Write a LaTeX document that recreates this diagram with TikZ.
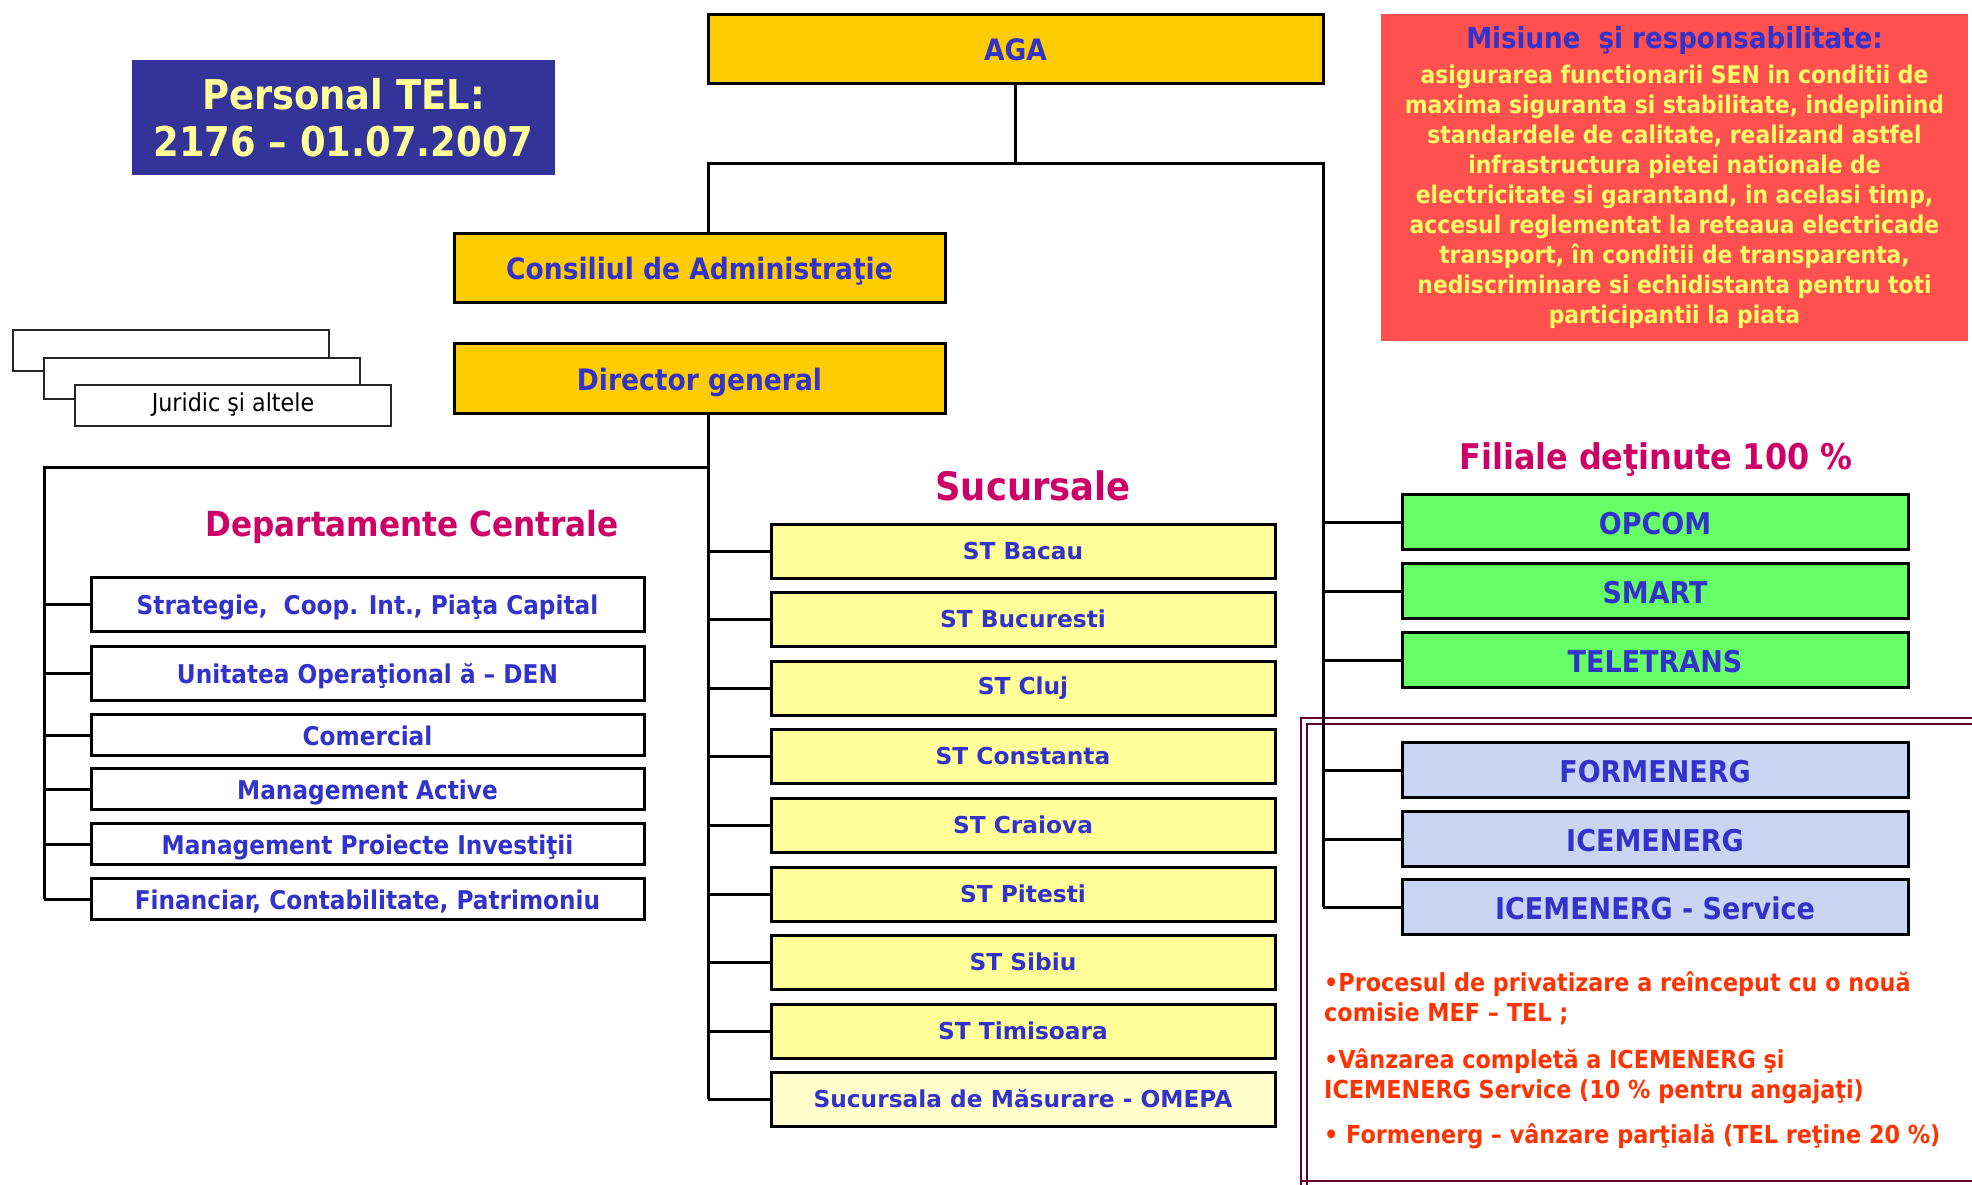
\documentclass[tikz,border=0pt]{standalone}
\usepackage{fontspec}
\setmainfont{DejaVu Sans}
\newfontfamily\narrowfont{DejaVu Sans Condensed}
\usepackage{tikz}
\usetikzlibrary{positioning}
\definecolor{orgblue}{HTML}{3333CC}
\definecolor{orgnavy}{HTML}{333399}
\definecolor{orggold}{HTML}{FFCC00}
\definecolor{orgcream}{HTML}{FFFF99}
\definecolor{orgpale}{HTML}{FFFFCC}
\definecolor{orggreen}{HTML}{66FF66}
\definecolor{orgmist}{HTML}{C9D6F3}
\definecolor{orgmagenta}{HTML}{CC0066}
\definecolor{orgred}{HTML}{FF5050}
\definecolor{orglemon}{HTML}{FFFF66}
\definecolor{orgorange}{HTML}{FF3300}
\definecolor{orgmaroon}{HTML}{660033}

\begin{document}
\begin{tikzpicture}[x=1pt, y=-1pt,
    unitbox/.style={rectangle, draw=black, line width=3pt, fill=#1, inner sep=0pt, text=orgblue},
    topbox/.style={unitbox=orggold, minimum width=491pt, minimum height=69pt, text height=24.8pt, text depth=0pt, font=\narrowfont\bfseries\fontsize{29.5}{33}\selectfont},
    deptbox/.style={unitbox=white, minimum width=553pt, text height=21.7pt, text depth=0pt, font=\narrowfont\bfseries\fontsize{25.8}{30}\selectfont},
    stbox/.style={unitbox=#1, minimum width=504pt, minimum height=54pt, font=\bfseries\fontsize{23.3}{28}\selectfont},
    filbox/.style={unitbox=#1, minimum width=506pt, minimum height=55pt, text height=25.2pt, text depth=0pt, font=\narrowfont\bfseries\fontsize{30}{34}\selectfont},
    heading/.style={text=orgmagenta, inner sep=0pt, font=\narrowfont\bfseries\fontsize{#1}{#1}\selectfont},
    paperbox/.style={rectangle, draw=black!85, line width=2pt, fill=white, inner sep=0pt, minimum width=316pt, minimum height=41pt},
    conn/.style={draw=black, line width=3pt},
]
\useasboundingbox (0,0) rectangle (1972,1184);

\draw[orgmaroon, line width=2.5pt] (1301,1190) -- (1301,718) -- (1980,718);
\draw[orgmaroon, line width=1.5pt] (1307,1190) -- (1307,724) -- (1980,724);
\draw[orgmaroon, line width=2pt] (1301,1181) -- (1980,1181);

\node[rectangle, fill=orgnavy, minimum width=423pt, minimum height=115pt, inner sep=0pt, align=center, text=orgcream, font=\narrowfont\bfseries\fontsize{41}{47}\selectfont] (staff) at (343.5,117.5) {Personal TEL:\\2176 – 01.07.2007};

\node[topbox, minimum width=615pt] (aga) at (1015.5,48.5) {AGA};
\node[topbox] (board) at (699.5,267.5) {Consiliul de Administraţie};
\node[topbox, minimum height=70pt] (ceo) at (699.5,378) {Director general};

\node[paperbox] (jur1) at (170.5,350.5) {};
\node[paperbox] (jur2) at (202,378) {};
\node[paperbox, font=\narrowfont\fontsize{24.7}{28}\selectfont] (jur3) at (233,405) {Juridic şi altele};

\node[heading=34.6] (depttitle) at (412,527) {Departamente Centrale};
\node[heading=39.3] (sttitle) at (1033,486) {Sucursale};
\node[heading=35.4] (filtitle) at (1656,460) {Filiale deţinute 100 \%};

\node[deptbox, minimum height=54pt] (d1) at (367.5,604) {Strategie,\ \ Coop. Int., Piaţa Capital};
\node[deptbox, minimum height=54pt] (d2) at (367.5,673) {Unitatea Operaţional ă – DEN};
\node[deptbox, minimum height=41pt] (d3) at (367.5,735) {Comercial};
\node[deptbox, minimum height=41pt] (d4) at (367.5,789) {Management Active};
\node[deptbox, minimum height=41pt] (d5) at (367.5,844) {Management Proiecte Investiţii};
\node[deptbox, minimum height=41pt] (d6) at (367.5,899) {Financiar, Contabilitate, Patrimoniu};

\node[stbox=orgcream] (s1) at (1023,551) {ST Bacau};
\node[stbox=orgcream] (s2) at (1023,619) {ST Bucuresti};
\node[stbox=orgcream] (s3) at (1023,688) {ST Cluj};
\node[stbox=orgcream] (s4) at (1023,756) {ST Constanta};
\node[stbox=orgcream] (s5) at (1023,825) {ST Craiova};
\node[stbox=orgcream] (s6) at (1023,894) {ST Pitesti};
\node[stbox=orgcream] (s7) at (1023,962) {ST Sibiu};
\node[stbox=orgcream] (s8) at (1023,1031) {ST Timisoara};
\node[stbox=orgpale] (s9) at (1023,1099) {Sucursala de Măsurare - OMEPA};

\node[filbox=orggreen] (f1) at (1655,522) {OPCOM};
\node[filbox=orggreen] (f2) at (1655,591) {SMART};
\node[filbox=orggreen] (f3) at (1655,660) {TELETRANS};
\node[filbox=orgmist] (f4) at (1655,770) {FORMENERG};
\node[filbox=orgmist] (f5) at (1655,839) {ICEMENERG};
\node[filbox=orgmist] (f6) at (1655,907) {ICEMENERG - Service};

\coordinate (hub) at (1015.5,163);
\coordinate (busL) at (708,163);
\coordinate (busR) at (1323,163);
\coordinate (deptbus) at (44,467);
\draw[conn] (aga.south) -- (hub);
\draw[conn] (board.north -| busL) -- (busL) -- (busR) -- (busR |- f6.west);
\draw[conn] (ceo.south -| busL) -- (busL |- s9.west);
\draw[conn] (deptbus -| busL) -- (deptbus) -- (deptbus |- d6.west);

\draw[conn] (deptbus |- d1.west) -- (d1.west);
\draw[conn] (deptbus |- d2.west) -- (d2.west);
\draw[conn] (deptbus |- d3.west) -- (d3.west);
\draw[conn] (deptbus |- d4.west) -- (d4.west);
\draw[conn] (deptbus |- d5.west) -- (d5.west);
\draw[conn] (deptbus |- d6.west) -- (d6.west);

\draw[conn] (busL |- s1.west) -- (s1.west);
\draw[conn] (busL |- s2.west) -- (s2.west);
\draw[conn] (busL |- s3.west) -- (s3.west);
\draw[conn] (busL |- s4.west) -- (s4.west);
\draw[conn] (busL |- s5.west) -- (s5.west);
\draw[conn] (busL |- s6.west) -- (s6.west);
\draw[conn] (busL |- s7.west) -- (s7.west);
\draw[conn] (busL |- s8.west) -- (s8.west);
\draw[conn] (busL |- s9.west) -- (s9.west);

\draw[conn] (busR |- f1.west) -- (f1.west);
\draw[conn] (busR |- f2.west) -- (f2.west);
\draw[conn] (busR |- f3.west) -- (f3.west);
\draw[conn] (busR |- f4.west) -- (f4.west);
\draw[conn] (busR |- f5.west) -- (f5.west);
\draw[conn] (busR |- f6.west) -- (f6.west);

\node[rectangle, fill=orgred, minimum width=587pt, minimum height=327pt, inner sep=0pt] (mission) at (1674.5,177.5) {};
\node[text=orgblue, inner sep=0pt, font=\narrowfont\bfseries\fontsize{29}{32}\selectfont] (missiontitle) at (1674.5,40) {Misiune\ \ şi responsabilitate:};
\node[text=orglemon, align=center, inner sep=0pt, font=\narrowfont\bfseries\fontsize{24.3}{30}\selectfont] (missiontext) at (1674.5,196.5) {asigurarea functionarii SEN in conditii de\\maxima siguranta si stabilitate, indeplinind\\standardele de calitate, realizand astfel\\infrastructura pietei nationale de\\electricitate si garantand, in acelasi timp,\\accesul reglementat la reteaua electricade\\transport, în conditii de transparenta,\\nediscriminare si echidistanta pentru toti\\participantii la piata};

\node[text=orgorange, align=left, anchor=north west, inner sep=0pt, font=\narrowfont\bfseries\fontsize{24.8}{30}\selectfont] (notes) at (1324,971) {•Procesul de privatizare a reînceput cu o nouă\\comisie MEF – TEL ;\\[17pt]•Vânzarea completă a ICEMENERG şi\\ICEMENERG Service (10 \% pentru angajaţi)\\[15pt]• Formenerg – vânzare parţială (TEL reţine 20 \%)};
\end{tikzpicture}
\end{document}
